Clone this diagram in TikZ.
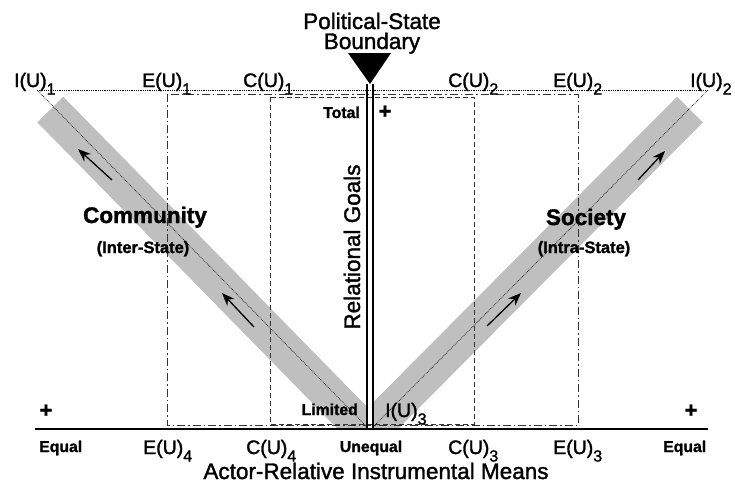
\documentclass[tikz,border=0pt]{standalone}
\usepackage{fontspec}
\setmainfont{Liberation Sans}[FakeBold=1.5]
\usetikzlibrary{arrows.meta}
\definecolor{bandgray}{gray}{0.75}
\definecolor{boxline}{gray}{0.2}
% unit label with a lowered index, e.g. E(U)_1
\newcommand{\ulab}[2]{{\fontsize{19.5}{20}\selectfont #1}\raisebox{-7.5pt}{\fontsize{16}{16}\selectfont #2}}

\begin{document}
\begin{tikzpicture}[x=1pt,y=-1pt,
  lbl/.style={inner sep=0pt, anchor=base west},
  small/.style={inner sep=0pt, font=\bfseries\fontsize{15.8}{16}\selectfont},
  plus/.style={inner sep=0pt, font=\bfseries\fontsize{22}{22}\selectfont},
  title/.style={inner sep=0pt, font=\fontsize{22.5}{20}\selectfont},
  big/.style={inner sep=0pt, font=\bfseries\fontsize{22.5}{22.5}\selectfont},
  paren/.style={inner sep=0pt, font=\bfseries\fontsize{16.5}{16.5}\selectfont},
  guide/.style={line width=0.6pt, dash pattern=on 0.8pt off 1pt},
  band/.style={fill=bandgray, draw=none},
  flow/.style={line width=1.3pt, -{Stealth[length=13pt,width=10pt]}},
  cbox/.style={draw=boxline, line width=0.8pt, dash pattern=on 5pt off 3pt},
  ebox/.style={draw=boxline, line width=0.8pt, dash pattern=on 8pt off 3pt on 1.5pt off 3pt},
  boundary/.style={line width=1.6pt},
  axis/.style={line width=2pt}
]
\useasboundingbox (0,0) rectangle (735,483);

% key points
\coordinate (IU1) at (37,90);
\coordinate (IU2) at (708,90);
\coordinate (apexL) at (368,428);
\coordinate (apexR) at (372,428);
\coordinate (axisL) at (35,429);
\coordinate (axisR) at (708,429);
\coordinate (bndLtop) at (367,84);
\coordinate (bndLbot) at (367,429);
\coordinate (bndRtop) at (373,84);
\coordinate (bndRbot) at (373,429);

% gray bands
\begin{scope}
  \clip (0,0) rectangle (367,428);
  \fill[band] (63.3,96.7) -- (37.3,122.3) -- (373.3,465.3) -- (399.3,439.7) -- cycle;
\end{scope}
\begin{scope}
  \clip (373,0) rectangle (735,428);
  \fill[band] (677,96.7) -- (702.9,122.4) -- (364.5,462.7) -- (338.6,437) -- cycle;
\end{scope}

% C and E regions
\draw[ebox] (167,94) rectangle (578,425);
\draw[cbox] (270,97) rectangle (474,424);

% guide lines
\draw[guide] (IU1) -- (IU2);
\draw[guide] (IU1) -- (apexL);
\draw[guide] (IU2) -- (apexR);

% political-state boundary
\draw[boundary] (bndLtop) -- (bndLbot);
\draw[boundary] (bndRtop) -- (bndRbot);
\fill (348,53) -- (391,53) -- (370,84) coordinate (tip) -- cycle;

% means axis
\draw[axis] (axisL) -- (axisR);

% flow arrows
\coordinate (a1s) at (112,180); \coordinate (a1e) at (78,149);
\coordinate (a2s) at (254,327); \coordinate (a2e) at (222,293);
\coordinate (a3s) at (487,326); \coordinate (a3e) at (521,293);
\coordinate (a4s) at (638,180); \coordinate (a4e) at (665,151);
\draw[flow] (a1s) -- (a1e);
\draw[flow] (a2s) -- (a2e);
\draw[flow] (a3s) -- (a3e);
\draw[flow] (a4s) -- (a4e);

% title
\node[title, align=center, anchor=base] (ttl) at (372,49) {Political-State\\Boundary};

% top labels
\node[lbl] (tI1) at (14,87) {\ulab{I(U)}{1}};
\node[lbl] (tE1) at (142,87) {\ulab{E(U)}{1}};
\node[lbl] (tC1) at (243,87) {\ulab{C(U)}{1}};
\node[lbl] (tC2) at (448,87) {\ulab{C(U)}{2}};
\node[lbl] (tE2) at (553,87) {\ulab{E(U)}{2}};
\node[lbl] (tI2) at (690,87) {\ulab{I(U)}{2}};

% bottom labels
\node[lbl] (bE4) at (143,454) {\ulab{E(U)}{4}};
\node[lbl] (bC4) at (246,454) {\ulab{C(U)}{4}};
\node[lbl] (bC3) at (448,454) {\ulab{C(U)}{3}};
\node[lbl] (bE3) at (553,454) {\ulab{E(U)}{3}};
\node[lbl] (bI3) at (385,417) {\ulab{I(U)}{3}};

\node[small, anchor=base west] (eqL) at (39,452) {Equal};
\node[small, anchor=base] (uneq) at (371,452) {Unequal};
\node[small, anchor=base west] (eqR) at (663,452) {Equal};
\node[small, anchor=base east] (total) at (360,118) {Total};
\node[small, anchor=base east] (limited) at (358,415) {Limited};

\node[plus] (plT) at (385,112) {+};
\node[plus] (plL) at (46,411) {+};
\node[plus] (plR) at (691,411) {+};

\node[title, anchor=base] (means) at (376,479) {Actor-Relative Instrumental Means};
\node[title, anchor=base, rotate=90] (goals) at (360,247) {Relational Goals};

\node[big, anchor=base] (comm) at (145,223) {Community};
\node[paren, anchor=base] (inter) at (143,253) {(Inter-State)};
\node[big, anchor=base] (soc) at (586,225) {Society};
\node[paren, anchor=base] (intra) at (584,253) {(Intra-State)};
\end{tikzpicture}
\end{document}
